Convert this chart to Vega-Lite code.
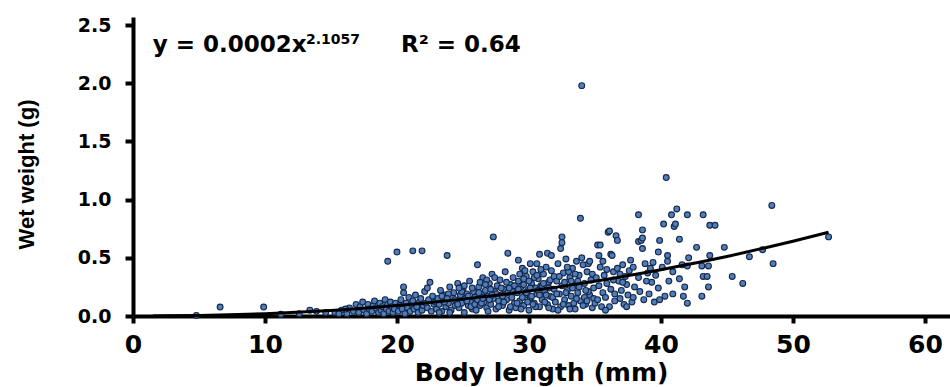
{
  "$schema": "https://vega.github.io/schema/vega-lite/v6.json",
  "autosize": "none",
  "width": 817,
  "height": 299,
  "padding": {"left": 133, "top": 17, "right": 0, "bottom": 71},
  "background": "white",
  "config": {"view": {"stroke": null}},
  "datasets": {
    "pts": [
      {"len":4.8,"wt":0.005},{"len":6.6,"wt":0.077},{"len":9.9,"wt":0.077},{"len":11.2,"wt":0.015},{"len":12.6,"wt":0.02},{"len":13.4,"wt":0.05},{"len":13.9,"wt":0.04},{"len":14.6,"wt":0.03},
      {"len":15.3,"wt":0.03},{"len":15.8,"wt":0.05},{"len":16.2,"wt":0.02},{"len":16.4,"wt":0.07},{"len":16.7,"wt":0.04},{"len":16.9,"wt":0.1},{"len":16.1,"wt":0.06},{"len":15.6,"wt":0.02},
      {"len":17.1,"wt":0.03},{"len":17.2,"wt":0.08},{"len":17.4,"wt":0.12},{"len":17.5,"wt":0.05},{"len":17.7,"wt":0.02},{"len":17.8,"wt":0.1},{"len":17.9,"wt":0.06},{"len":18.1,"wt":0.04},{"len":18.2,"wt":0.09},{"len":18.3,"wt":0.13},{"len":18.4,"wt":0.07},{"len":18.6,"wt":0.03},{"len":18.7,"wt":0.11},{"len":18.8,"wt":0.05},{"len":18.9,"wt":0.08},{"len":19.0,"wt":0.02},{"len":19.1,"wt":0.14},{"len":19.2,"wt":0.06},{"len":19.3,"wt":0.1},{"len":19.4,"wt":0.04},{"len":19.5,"wt":0.12},{"len":19.6,"wt":0.08},{"len":19.7,"wt":0.03},{"len":19.8,"wt":0.06},{"len":19.9,"wt":0.11},{"len":19.3,"wt":0.47},{"len":20.0,"wt":0.55},
      {"len":20.1,"wt":0.04},{"len":20.2,"wt":0.09},{"len":20.3,"wt":0.14},{"len":20.4,"wt":0.06},{"len":20.5,"wt":0.2},{"len":20.6,"wt":0.02},{"len":20.7,"wt":0.11},{"len":20.8,"wt":0.07},{"len":20.9,"wt":0.16},{"len":21.0,"wt":0.04},{"len":21.1,"wt":0.1},{"len":21.2,"wt":0.13},{"len":21.3,"wt":0.06},{"len":21.4,"wt":0.18},{"len":21.5,"wt":0.08},{"len":21.6,"wt":0.03},{"len":21.7,"wt":0.12},{"len":21.8,"wt":0.15},{"len":21.9,"wt":0.05},{"len":22.0,"wt":0.09},{"len":22.1,"wt":0.21},{"len":22.2,"wt":0.11},{"len":22.3,"wt":0.07},{"len":22.4,"wt":0.14},{"len":22.5,"wt":0.29},{"len":22.6,"wt":0.04},{"len":22.7,"wt":0.17},{"len":22.8,"wt":0.1},{"len":22.9,"wt":0.12},{"len":21.2,"wt":0.56},{"len":21.9,"wt":0.56},{"len":20.5,"wt":0.25},{"len":22.3,"wt":0.24},
      {"len":23.0,"wt":0.06},{"len":23.1,"wt":0.15},{"len":23.2,"wt":0.1},{"len":23.3,"wt":0.22},{"len":23.4,"wt":0.04},{"len":23.5,"wt":0.13},{"len":23.6,"wt":0.18},{"len":23.7,"wt":0.08},{"len":23.8,"wt":0.52},{"len":23.9,"wt":0.11},{"len":24.0,"wt":0.25},{"len":24.1,"wt":0.05},{"len":24.2,"wt":0.16},{"len":24.3,"wt":0.2},{"len":24.4,"wt":0.09},{"len":24.5,"wt":0.13},{"len":24.6,"wt":0.28},{"len":24.7,"wt":0.07},{"len":24.8,"wt":0.18},{"len":24.9,"wt":0.11},{"len":25.0,"wt":0.23},{"len":25.1,"wt":0.03},{"len":25.2,"wt":0.15},{"len":25.3,"wt":0.19},{"len":25.4,"wt":0.09},{"len":25.5,"wt":0.3},{"len":25.6,"wt":0.12},{"len":25.7,"wt":0.06},{"len":25.8,"wt":0.21},{"len":25.9,"wt":0.16},{"len":23.2,"wt":0.03},{"len":23.9,"wt":0.19},{"len":24.4,"wt":0.14},{"len":25.1,"wt":0.26},{"len":25.6,"wt":0.08},{"len":24.0,"wt":0.03},{"len":23.6,"wt":0.12},{"len":24.9,"wt":0.21},{"len":25.4,"wt":0.17},{"len":25.9,"wt":0.1},{"len":23.4,"wt":0.17},{"len":24.7,"wt":0.24},{"len":23.8,"wt":0.15},{"len":24.6,"wt":0.1},{"len":25.3,"wt":0.13},{"len":25.7,"wt":0.24},
      {"len":26.0,"wt":0.05},{"len":26.1,"wt":0.44},{"len":26.1,"wt":0.14},{"len":26.2,"wt":0.25},{"len":26.3,"wt":0.09},{"len":26.4,"wt":0.19},{"len":26.5,"wt":0.33},{"len":26.6,"wt":0.12},{"len":26.7,"wt":0.22},{"len":26.8,"wt":0.07},{"len":26.9,"wt":0.17},{"len":27.0,"wt":0.28},{"len":27.1,"wt":0.1},{"len":27.2,"wt":0.36},{"len":27.3,"wt":0.68},{"len":27.3,"wt":0.15},{"len":27.4,"wt":0.21},{"len":27.5,"wt":0.06},{"len":27.6,"wt":0.26},{"len":27.7,"wt":0.13},{"len":27.8,"wt":0.31},{"len":27.9,"wt":0.18},{"len":28.0,"wt":0.09},{"len":28.1,"wt":0.23},{"len":28.2,"wt":0.38},{"len":28.3,"wt":0.14},{"len":28.4,"wt":0.54},{"len":28.4,"wt":0.2},{"len":28.5,"wt":0.05},{"len":28.6,"wt":0.27},{"len":28.7,"wt":0.16},{"len":28.8,"wt":0.33},{"len":28.9,"wt":0.11},{"len":26.3,"wt":0.29},{"len":26.9,"wt":0.04},{"len":27.5,"wt":0.19},{"len":27.9,"wt":0.24},{"len":28.6,"wt":0.08},{"len":26.6,"wt":0.16},{"len":27.1,"wt":0.23},{"len":28.1,"wt":0.12},{"len":28.8,"wt":0.21},{"len":26.4,"wt":0.11},{"len":27.7,"wt":0.08},{"len":28.3,"wt":0.29},{"len":27.0,"wt":0.14},{"len":26.8,"wt":0.31},{"len":28.9,"wt":0.26},{"len":27.4,"wt":0.33},{"len":26.2,"wt":0.2},{"len":26.5,"wt":0.15},{"len":27.2,"wt":0.18},{"len":28.0,"wt":0.17},{"len":28.5,"wt":0.24},{"len":26.7,"wt":0.27},
      {"len":29.0,"wt":0.07},{"len":29.1,"wt":0.2},{"len":29.2,"wt":0.48},{"len":29.2,"wt":0.3},{"len":29.3,"wt":0.13},{"len":29.4,"wt":0.25},{"len":29.5,"wt":0.41},{"len":29.6,"wt":0.09},{"len":29.7,"wt":0.18},{"len":29.8,"wt":0.34},{"len":29.9,"wt":0.22},{"len":30.0,"wt":0.05},{"len":30.1,"wt":0.45},{"len":30.1,"wt":0.15},{"len":30.2,"wt":0.28},{"len":30.3,"wt":0.38},{"len":30.4,"wt":0.11},{"len":30.5,"wt":0.24},{"len":30.6,"wt":0.45},{"len":30.6,"wt":0.19},{"len":30.7,"wt":0.32},{"len":30.8,"wt":0.53},{"len":30.8,"wt":0.08},{"len":30.9,"wt":0.26},{"len":31.0,"wt":0.14},{"len":31.1,"wt":0.36},{"len":31.2,"wt":0.21},{"len":31.3,"wt":0.42},{"len":31.4,"wt":0.54},{"len":31.4,"wt":0.1},{"len":31.5,"wt":0.29},{"len":31.6,"wt":0.17},{"len":31.7,"wt":0.52},{"len":31.7,"wt":0.39},{"len":31.8,"wt":0.06},{"len":31.9,"wt":0.23},{"len":29.3,"wt":0.36},{"len":29.6,"wt":0.27},{"len":29.9,"wt":0.12},{"len":30.2,"wt":0.17},{"len":30.4,"wt":0.33},{"len":30.9,"wt":0.4},{"len":31.2,"wt":0.12},{"len":31.6,"wt":0.31},{"len":29.1,"wt":0.11},{"len":29.8,"wt":0.2},{"len":30.5,"wt":0.08},{"len":31.0,"wt":0.26},{"len":31.8,"wt":0.16},{"len":29.5,"wt":0.16},{"len":30.0,"wt":0.3},{"len":30.7,"wt":0.22},{"len":31.3,"wt":0.18},{"len":31.9,"wt":0.34},{"len":29.4,"wt":0.06},{"len":30.3,"wt":0.1},{"len":31.5,"wt":0.07},{"len":30.6,"wt":0.35},{"len":29.7,"wt":0.39},{"len":31.1,"wt":0.28},{"len":29.2,"wt":0.23},{"len":30.1,"wt":0.24},{"len":30.8,"wt":0.18},{"len":31.5,"wt":0.24},{"len":29.6,"wt":0.32},
      {"len":32.0,"wt":0.12},{"len":32.1,"wt":0.3},{"len":32.2,"wt":0.45},{"len":32.3,"wt":0.19},{"len":32.4,"wt":0.58},{"len":32.4,"wt":0.08},{"len":32.5,"wt":0.68},{"len":32.5,"wt":0.63},{"len":32.5,"wt":0.26},{"len":32.6,"wt":0.37},{"len":32.7,"wt":0.14},{"len":32.8,"wt":0.49},{"len":32.9,"wt":0.22},{"len":33.0,"wt":0.09},{"len":33.1,"wt":0.33},{"len":33.2,"wt":0.17},{"len":33.3,"wt":0.41},{"len":33.4,"wt":0.27},{"len":33.5,"wt":0.06},{"len":33.6,"wt":0.47},{"len":33.7,"wt":0.2},{"len":33.8,"wt":0.35},{"len":33.9,"wt":0.84},{"len":33.9,"wt":0.13},{"len":34.0,"wt":1.98},{"len":34.0,"wt":0.5},{"len":34.1,"wt":0.44},{"len":34.2,"wt":0.28},{"len":34.3,"wt":0.1},{"len":34.4,"wt":0.38},{"len":34.5,"wt":0.45},{"len":34.6,"wt":0.47},{"len":34.6,"wt":0.18},{"len":34.7,"wt":0.31},{"len":34.8,"wt":0.07},{"len":34.9,"wt":0.24},{"len":32.2,"wt":0.05},{"len":32.7,"wt":0.29},{"len":33.0,"wt":0.38},{"len":33.4,"wt":0.11},{"len":33.7,"wt":0.3},{"len":34.2,"wt":0.16},{"len":34.5,"wt":0.21},{"len":32.9,"wt":0.42},{"len":33.3,"wt":0.24},{"len":34.8,"wt":0.36},{"len":32.1,"wt":0.19},{"len":33.6,"wt":0.15},{"len":34.1,"wt":0.09},{"len":33.1,"wt":0.06},{"len":32.6,"wt":0.1},{"len":34.4,"wt":0.13},{"len":33.8,"wt":0.25},{"len":32.3,"wt":0.34},{"len":34.9,"wt":0.15},{"len":33.5,"wt":0.36},{"len":32.8,"wt":0.2},{"len":33.2,"wt":0.3},{"len":34.3,"wt":0.22},
      {"len":35.0,"wt":0.11},{"len":35.1,"wt":0.33},{"len":35.2,"wt":0.61},{"len":35.2,"wt":0.14},{"len":35.3,"wt":0.26},{"len":35.4,"wt":0.61},{"len":35.4,"wt":0.42},{"len":35.5,"wt":0.08},{"len":35.6,"wt":0.47},{"len":35.6,"wt":0.2},{"len":35.7,"wt":0.35},{"len":35.8,"wt":0.16},{"len":35.9,"wt":0.28},{"len":36.0,"wt":0.72},{"len":36.1,"wt":0.73},{"len":36.1,"wt":0.08},{"len":36.2,"wt":0.53},{"len":36.2,"wt":0.23},{"len":36.3,"wt":0.52},{"len":36.4,"wt":0.38},{"len":36.5,"wt":0.13},{"len":36.6,"wt":0.69},{"len":36.7,"wt":0.65},{"len":36.7,"wt":0.41},{"len":36.8,"wt":0.3},{"len":36.9,"wt":0.15},{"len":37.0,"wt":0.22},{"len":37.1,"wt":0.44},{"len":37.2,"wt":0.1},{"len":37.3,"wt":0.34},{"len":37.4,"wt":0.27},{"len":37.5,"wt":0.18},{"len":37.6,"wt":0.39},{"len":37.7,"wt":0.48},{"len":37.8,"wt":0.12},{"len":37.9,"wt":0.42},{"len":37.9,"wt":0.16},{"len":35.3,"wt":0.52},{"len":35.8,"wt":0.05},{"len":36.4,"wt":0.31},{"len":36.9,"wt":0.36},{"len":37.4,"wt":0.08},{"len":35.9,"wt":0.4},{"len":36.5,"wt":0.19},{"len":37.1,"wt":0.29},
      {"len":38.0,"wt":0.25},{"len":38.3,"wt":0.87},{"len":38.3,"wt":0.64},{"len":38.3,"wt":0.33},{"len":38.4,"wt":0.21},{"len":38.5,"wt":0.65},{"len":38.6,"wt":0.74},{"len":38.6,"wt":0.58},{"len":38.6,"wt":0.67},{"len":38.7,"wt":0.14},{"len":38.8,"wt":0.45},{"len":39.0,"wt":0.37},{"len":39.1,"wt":0.19},{"len":39.3,"wt":0.29},{"len":39.4,"wt":0.46},{"len":39.5,"wt":0.12},{"len":39.8,"wt":0.55},{"len":39.8,"wt":0.24},{"len":39.9,"wt":0.65},{"len":39.9,"wt":0.14},{"len":40.2,"wt":0.79},{"len":40.4,"wt":1.19},{"len":40.5,"wt":0.52},{"len":40.5,"wt":0.47},{"len":40.8,"wt":0.87},{"len":40.9,"wt":0.19},{"len":40.9,"wt":0.38},{"len":41.0,"wt":0.77},{"len":41.2,"wt":0.92},{"len":41.1,"wt":0.79},{"len":38.9,"wt":0.3},{"len":39.6,"wt":0.35},{"len":40.1,"wt":0.42},{"len":40.6,"wt":0.3},{"len":39.2,"wt":0.41},{"len":40.3,"wt":0.17},
      {"len":41.4,"wt":0.66},{"len":41.4,"wt":0.32},{"len":41.8,"wt":0.25},{"len":41.7,"wt":0.17},{"len":42.0,"wt":0.87},{"len":42.1,"wt":0.5},{"len":42.0,"wt":0.43},{"len":42.0,"wt":0.11},{"len":42.7,"wt":0.59},{"len":43.2,"wt":0.87},{"len":43.7,"wt":0.78},{"len":44.1,"wt":0.78},{"len":43.7,"wt":0.52},{"len":43.1,"wt":0.43},{"len":43.6,"wt":0.43},{"len":43.2,"wt":0.34},{"len":43.5,"wt":0.34},{"len":43.6,"wt":0.25},{"len":43.1,"wt":0.17},{"len":41.6,"wt":0.44},
      {"len":44.8,"wt":0.59},{"len":45.4,"wt":0.34},{"len":46.2,"wt":0.28},{"len":46.7,"wt":0.51},{"len":47.7,"wt":0.57},{"len":48.4,"wt":0.95},{"len":48.5,"wt":0.45},{"len":52.7,"wt":0.68}
    ],
    "fit": [
      {"len":1.5,"wt":0.0003},{"len":5,"wt":0.0045},{"len":8,"wt":0.0125},{"len":10,"wt":0.0202},{"len":12,"wt":0.0299},{"len":15,"wt":0.0483},{"len":18,"wt":0.0715},{"len":20,"wt":0.0897},{"len":22,"wt":0.11},{"len":25,"wt":0.145},{"len":28,"wt":0.185},{"len":30,"wt":0.214},{"len":32,"wt":0.246},{"len":35,"wt":0.299},{"len":38,"wt":0.356},{"len":40,"wt":0.398},{"len":42,"wt":0.442},{"len":45,"wt":0.512},{"len":48,"wt":0.589},{"len":50,"wt":0.643},{"len":52.7,"wt":0.72}
    ],
    "notes": [
      {"len":1.5,"wt":2.27,"label":"y = 0.0002x","size":23},
      {"len":13.1,"wt":2.335,"label":"2.1057","size":14},
      {"len":20.3,"wt":2.27,"label":"R² = 0.64","size":23}
    ]
  },
  "layer": [
    {
      "data": {"name": "pts"},
      "mark": {"type": "circle", "size": 34, "fill": "#4f7fba", "fillOpacity": 1, "stroke": "#17264a", "strokeWidth": 1.1},
      "encoding": {
        "x": {
          "field": "len", "type": "quantitative",
          "scale": {"domain": [0, 61.9], "nice": false, "zero": false},
          "axis": {
            "title": "Body length (mm)",
            "values": [0, 10, 20, 30, 40, 50, 60],
            "format": "d",
            "grid": false,
            "domainColor": "black", "domainWidth": 4,
            "tickColor": "black", "tickWidth": 4, "tickSize": 7,
            "labelFont": "DejaVu Sans", "labelFontWeight": "bold", "labelFontSize": 25, "labelColor": "black",
            "labelPadding": 9, "labelFlush": false,
            "titleFont": "DejaVu Sans", "titleFontWeight": "bold", "titleFontSize": 25, "titleColor": "black",
            "titleBaseline": "alphabetic", "titleY": 64, "titleX": 408
          }
        },
        "y": {
          "field": "wt", "type": "quantitative",
          "scale": {"domain": [0, 2.57], "nice": false},
          "axis": {
            "title": "Wet weight (g)",
            "values": [0, 0.5, 1, 1.5, 2, 2.5],
            "format": ".1f",
            "grid": false,
            "domainColor": "black", "domainWidth": 4,
            "tickColor": "black", "tickWidth": 4, "tickSize": 8,
            "labelFont": "DejaVu Sans", "labelFontWeight": "bold", "labelFontSize": 19, "labelColor": "black",
            "labelPadding": 14, "labelFlush": false,
            "titleFont": "Liberation Sans Narrow, Liberation Sans", "titleFontWeight": "bold", "titleFontSize": 22, "titleColor": "black",
            "titleAngle": -90, "titleBaseline": "alphabetic", "titleAlign": "center", "titleX": -100, "titleY": 157
          }
        }
      }
    },
    {
      "data": {"name": "fit"},
      "mark": {"type": "line", "color": "black", "strokeWidth": 3, "interpolate": "monotone"},
      "encoding": {
        "x": {"field": "len", "type": "quantitative"},
        "y": {"field": "wt", "type": "quantitative"}
      }
    },
    {
      "data": {"name": "notes"},
      "mark": {"type": "text", "align": "left", "baseline": "alphabetic", "font": "DejaVu Sans", "fontWeight": "bold", "color": "black"},
      "encoding": {
        "x": {"field": "len", "type": "quantitative"},
        "y": {"field": "wt", "type": "quantitative"},
        "text": {"field": "label"},
        "size": {"field": "size", "type": "quantitative", "scale": null}
      }
    }
  ]
}
